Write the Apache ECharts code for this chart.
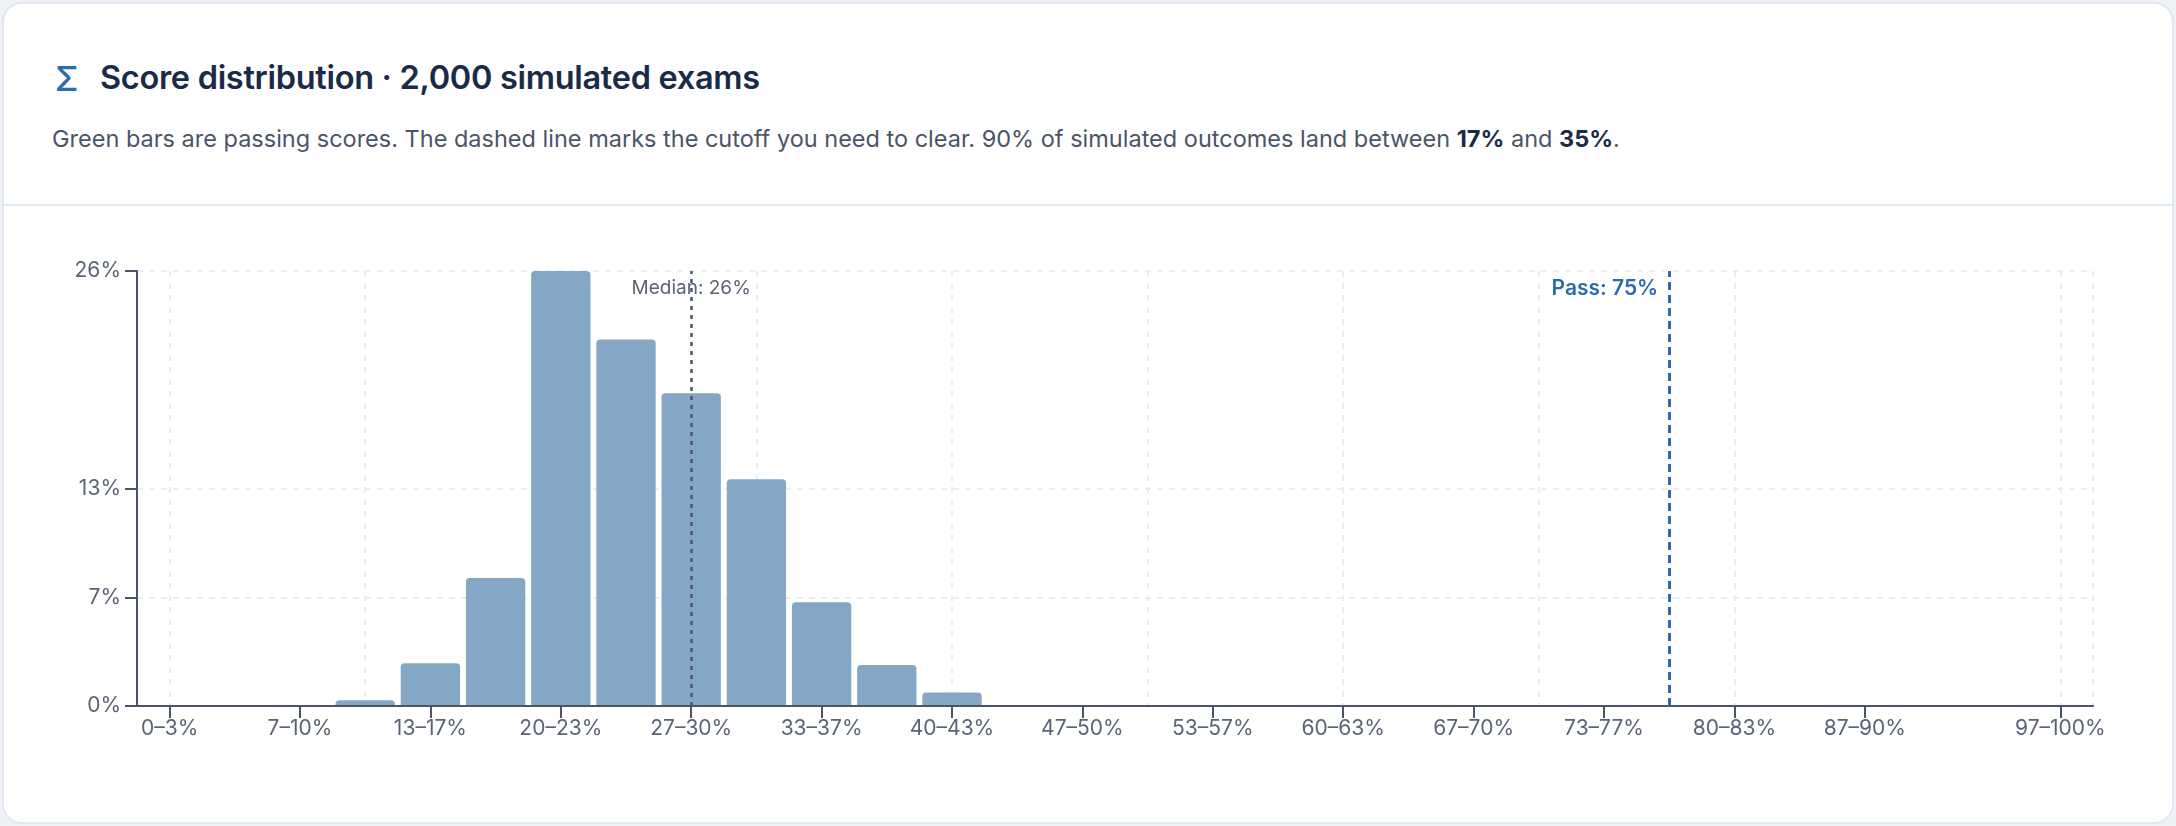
<!DOCTYPE html>
<html>
<head>
<meta charset="utf-8">
<script src="https://cdn.jsdelivr.net/npm/echarts@6/dist/echarts.min.js"></script>
<style>
  html, body { margin: 0; padding: 0; width: 2176px; height: 826px; background: #eef2f7; overflow: hidden; }
  #card { position: absolute; left: 2px; top: 2px; width: 2168px; height: 818px; background: #fff;
          border: 2px solid #e2e8f0; border-radius: 20px; }
  #sep { position: absolute; left: 0; right: 0; top: 200px; height: 2px; background: #e2e8f0; }
  #sigma { position: absolute; left: 51px; top: 55px; font: 500 34px Inter, sans-serif; color: #2b6cb0; line-height: 40px; }
  #title { position: absolute; left: 96px; top: 54px; font: 600 32.5px Inter, sans-serif; color: #1a2b47; line-height: 40px; letter-spacing: -0.3px; }
  #sub { position: absolute; left: 48px; top: 119px; font: 400 23.5px Inter, sans-serif; color: #4a5568; line-height: 32px; }
  #sub b { color: #1a2b47; font-weight: 700; }
  #chart { position: absolute; left: 0; top: 0; width: 2176px; height: 826px; }
</style>
</head>
<body>
<div id="card">
  <div id="sigma">Σ</div>
  <div id="title">Score distribution · 2,000 simulated exams</div>
  <div id="sub">Green bars are passing scores. The dashed line marks the cutoff you need to clear. 90% of simulated outcomes land between <b>17%</b> and <b>35%</b>.</div>
  <div id="sep"></div>
</div>
<div id="chart"></div>
<script>
// ---- data ----
const bins = ['0–3%','3–7%','7–10%','10–13%','13–17%','17–20%','20–23%','23–27%','27–30%','30–33%',
              '33–37%','37–40%','40–43%','43–47%','47–50%','50–53%','53–57%','57–60%','60–63%','63–67%',
              '67–70%','70–73%','73–77%','77–80%','80–83%','83–87%','87–90%','90–93%','93–97%','97–100%'];
const shares = [0, 0, 0, 0.35, 2.55, 7.65, 26.0, 21.9, 18.7, 13.55,
                6.2, 2.45, 0.8, 0, 0, 0, 0, 0, 0, 0,
                0, 0, 0, 0, 0, 0, 0, 0, 0, 0];
const yTickValues = [0, 6.5, 13, 26];
const yMax = 26;
const shownLabelIdx = [0, 2, 4, 6, 8, 10, 12, 14, 16, 18, 20, 22, 24, 26, 29];
const splitLineIdx = [0, 3, 6, 9, 12, 15, 18, 21, 24, 29];
const medianValue = 26, medianBin = '27–30%';
const passValue = 75, passBin = '77–80%';

const axisColor = '#4b5567';
const labelColor = '#5a6476';
const gridColor = '#e3e8ef';
const FONT = 'Inter, sans-serif';

// vertical grid lines sit on the centre of selected bins, plus the right edge
const vGridValues = splitLineIdx.map(i => i + 0.5).concat([bins.length]);

const chart = echarts.init(document.getElementById('chart'), null, { renderer: 'canvas' });
chart.setOption({
  animation: false,
  grid: { left: 137, right: 83, top: 271, bottom: 120, containLabel: false, outerBoundsMode: 'none' },
  xAxis: [{
    type: 'category',
    data: bins,
    boundaryGap: true,
    axisLine: { show: true, lineStyle: { color: axisColor, width: 2 } },
    axisTick: { show: true, alignWithLabel: true, length: 12, lineStyle: { color: axisColor, width: 2 },
                interval: (i) => shownLabelIdx.includes(i) },
    axisLabel: { interval: (i) => shownLabelIdx.includes(i), color: labelColor, fontSize: 21,
                 fontFamily: FONT, margin: 12 },
    splitLine: { show: false },
    z: 3
  }, {
    type: 'value', position: 'top', min: 0, max: bins.length,
    axisLine: { show: false },
    axisTick: { show: false, customValues: vGridValues },
    axisLabel: { show: false, customValues: vGridValues },
    splitLine: { show: true, lineStyle: { color: gridColor, width: 1.5, type: [6, 6] } }
  }],
  yAxis: {
    type: 'value', min: 0, max: yMax,
    axisLine: { show: true, lineStyle: { color: axisColor, width: 2 } },
    axisTick: { show: true, length: 12, lineStyle: { color: axisColor, width: 2 }, customValues: yTickValues },
    axisLabel: { customValues: yTickValues, formatter: (v) => Math.round(v) + '%', color: labelColor,
                 fontSize: 21, fontFamily: FONT, margin: 16 },
    splitLine: { show: true, lineStyle: { color: gridColor, width: 1.5, type: [6, 6] } }
  },
  series: [{
    type: 'bar',
    data: shares,
    barCategoryGap: '9%',
    itemStyle: { color: '#83a7c5', borderRadius: [4, 4, 0, 0] },
    markLine: {
      silent: true, symbol: 'none', animation: false,
      data: [
        { xAxis: medianBin,
          lineStyle: { color: '#4b5567', width: 2.5, type: [4, 5] },
          label: { show: true, position: 'end', distance: -27, formatter: 'Median: ' + medianValue + '%',
                   color: '#5a6476', fontSize: 19, fontFamily: FONT } },
        { xAxis: passBin,
          lineStyle: { color: '#2b6cb0', width: 3, type: [8, 5] },
          label: { show: true, position: 'end', distance: -28, align: 'right', padding: [0, 11, 0, 0],
                   formatter: 'Pass: ' + passValue + '%',
                   color: '#2b6cb0', fontSize: 21, fontWeight: 600, fontFamily: FONT } }
      ]
    }
  }]
});
</script>
</body>
</html>
